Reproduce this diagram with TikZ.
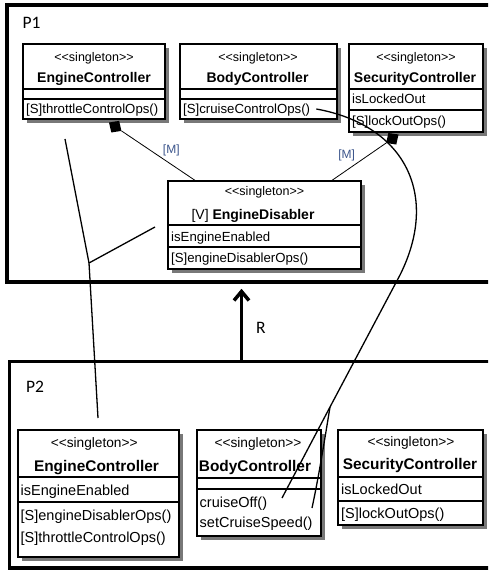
\documentclass[tikz,border=0pt]{standalone}
\usepackage{fontspec}
\setmainfont{Liberation Sans}
\newfontfamily\calfont{Carlito}
\usetikzlibrary{arrows.meta,calc}
\definecolor{mcol}{RGB}{60,85,140}
\definecolor{shadowc}{RGB}{120,120,120}
\newcommand\classbox[5]{%
  \fill[shadowc] ({#2+4},{#3+4}) rectangle ({#4+4},{#5+4});
  \node[boxst, minimum width={(#4-#2)*1pt}, minimum height={(#5-#3)*1pt}] (#1) at ({(#2+#4)/2},{(#3+#5)/2}) {};}
\newcommand\divider[2]{\draw[boxline] (#1.west |- 0,#2) -- (#1.east |- 0,#2);}
\newcommand\stt{<\kern0pt<singleton>\kern0pt>}
\newcommand\compline[2]{%
  \fill (#1) -- ($(#1)!7.5pt!(#2)!7pt!90:(#2)$) -- ($(#1)!15pt!(#2)$) -- ($(#1)!7.5pt!(#2)!7pt!-90:(#2)$) -- cycle;
  \draw[compl] ($(#1)!15pt!(#2)$) -- (#2);}
\begin{document}
\begin{tikzpicture}[x=1pt,y=-1pt,
  boxst/.style={draw, line width=1.3pt, fill=white, inner sep=0pt},
  boxline/.style={line width=1.2pt},
  stereo/.style={inner sep=0pt, font=\fontsize{12.5}{14}\selectfont, text height=9pt, text depth=0pt},
  cname/.style={inner sep=0pt, font=\bfseries\fontsize{14}{16}\selectfont, text height=10pt, text depth=0pt},
  member/.style={inner sep=0pt, anchor=west, font=\fontsize{13.2}{15}\selectfont, text height=9.5pt, text depth=0pt},
  stereoB/.style={inner sep=0pt, font=\fontsize{13.7}{15}\selectfont, text height=9.9pt, text depth=0pt},
  cnameB/.style={inner sep=0pt, font=\bfseries\fontsize{15.4}{17}\selectfont, text height=11pt, text depth=0pt},
  memberB/.style={inner sep=0pt, anchor=west, font=\fontsize{14.5}{16}\selectfont, text height=10.4pt, text depth=0pt},
  mlab/.style={inner sep=0pt, font=\fontsize{12}{14}\selectfont, text=mcol},
  plab/.style={inner sep=0pt, anchor=west, font=\calfont\fontsize{17.5}{20}\selectfont, text height=11.3pt, text depth=0pt},
  trace/.style={line width=1.3pt},
  compl/.style={line width=0.8pt},
  framest/.style={draw, line width=3.5pt, inner sep=0pt},
  rarrow/.style={line width=3.5pt, -{Straight Barb[length=9pt,width=15pt]}}]
\useasboundingbox (0,0) rectangle (488,572);
\clip (0,0) rectangle (488,572);
\fill[white] (0,0) rectangle (488,572);
% frames
\node[framest, minimum width=513pt, minimum height=277pt] (p1) at (263.5,143.5) {};
\node[framest, minimum width=510.5pt, minimum height=206.5pt] (p2) at (264.75,464.75) {};
\node[plab] (p1l) at (22.5,22.5) {P1};
\node[plab] (p2l) at (26,387) {P2};
\coordinate (rx) at (241.5,0);
\draw[rarrow] (p2.north -| rx) -- ($(p1.south -| rx)+(0,5)$);
\node[plab] (rl) at (256,327.5) {R};
% P1 classes
\classbox{ec1}{23}{44}{165}{119}
\divider{ec1}{89}\divider{ec1}{99}
\node[stereo] (ec1s) at (94,57) {\stt};
\node[cname] (ec1n) at (94,78) {EngineController};
\node[member] (ec1o) at (26,109) {[S]throttleControlOps()};
\classbox{bc1}{180}{44}{337}{119}
\divider{bc1}{89}\divider{bc1}{99}
\node[stereo] (bc1s) at (258,57) {\stt};
\node[cname] (bc1n) at (257.5,78) {BodyController};
\node[member] (bc1o) at (183,109) {[S]cruiseControlOps()};
\classbox{sc1}{349}{44}{483}{132}
\divider{sc1}{89}\divider{sc1}{110}
\node[stereo] (sc1s) at (416,57) {\stt};
\node[cname] (sc1n) at (415,78) {SecurityController};
\node[member] (sc1a) at (352,99) {isLockedOut};
\node[member] (sc1o) at (352,120.5) {[S]lockOutOps()};
\classbox{ed}{168}{181}{361}{269}
\divider{ed}{225}\divider{ed}{247}
\node[stereo] (eds) at (264.5,191) {\stt};
\node[cname] (edn) at (253,214) {{\mdseries [V]} EngineDisabler};
\node[member] (eda) at (171,236.5) {isEngineEnabled};
\node[member] (edo) at (171,258) {[S]engineDisablerOps()};
% compositions
\coordinate (d1t) at (109,122.5);
\coordinate (d1s) at (ed.north -| 195,0);
\coordinate (d2t) at (398.5,134.5);
\coordinate (d2s) at (ed.north -| 332,0);
\compline{d1t}{d1s}
\compline{d2t}{d2s}
\node[mlab] (m1) at (171.3,150) {[M]};
\node[mlab] (m2) at (346.7,155.3) {[M]};
% P2 classes
\classbox{ec2}{18}{430}{179}{557}
\divider{ec2}{477}\divider{ec2}{502}
\node[stereoB] (ec2s) at (94.2,443) {\stt};
\node[cnameB] (ec2n) at (96.5,465.5) {EngineController};
\node[memberB] (ec2a) at (20.5,490.5) {isEngineEnabled};
\node[memberB] (ec2o1) at (20.5,515) {[S]engineDisablerOps()};
\node[memberB] (ec2o2) at (20.5,537) {[S]throttleControlOps()};
\classbox{bc2}{197}{430}{321}{536}
\divider{bc2}{478}\divider{bc2}{489}
\node[stereoB] (bc2s) at (258,443) {\stt};
\node[cnameB] (bc2n) at (255,465.5) {BodyController};
\node[memberB] (bc2o1) at (199.5,502) {cruiseOff()};
\node[memberB] (bc2o2) at (199.5,522) {setCruiseSpeed()};
\classbox{sc2}{338}{430}{483}{525}
\divider{sc2}{477}\divider{sc2}{501}
\node[stereoB] (sc2s) at (411,441.5) {\stt};
\node[cnameB] (sc2n) at (410,464) {SecurityController};
\node[memberB] (sc2a) at (341,489.5) {isLockedOut};
\node[memberB] (sc2o) at (341,513) {[S]lockOutOps()};
% trace links
\coordinate (t1a) at (65,139);
\coordinate (t1b) at (155,227);
\coordinate (t1f) at (89,263);
\coordinate (t1c) at (98,418);
\draw[trace] (t1a) -- (t1f) -- (t1c);
\draw[trace] (t1f) -- (t1b);
\coordinate (c0) at ($(bc1o.east)+(6,0)$);
\coordinate (cm) at (400,275);
\coordinate (f2) at (330,407);
\coordinate (c1) at (282,498);
\coordinate (c2) at (312,508);
\draw[trace] (c0) .. controls (405,125) and (440,195) .. (cm) -- (f2) -- (c1);
\draw[trace] (f2) .. controls (323,450) and (318,480) .. (c2);
\end{tikzpicture}
\end{document}
